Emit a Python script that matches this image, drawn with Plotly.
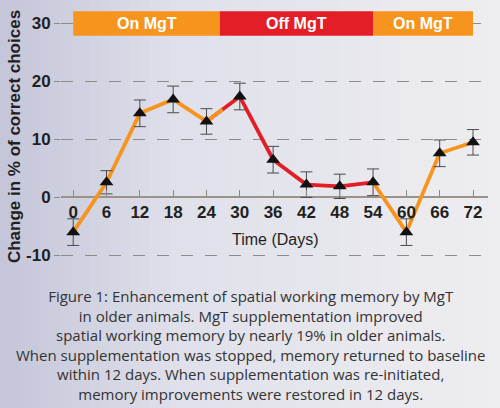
import plotly.graph_objects as go

# data
days = [0, 6, 12, 18, 24, 30, 36, 42, 48, 54, 60, 66, 72]
change = [-6.0, 2.6, 14.5, 16.9, 13.1, 17.4, 6.5, 2.2, 1.9, 2.6, -6.0, 7.6, 9.5]
err = [2.3, 2.0, 2.3, 2.3, 2.2, 2.3, 2.3, 2.2, 2.1, 2.3, 2.3, 2.3, 2.2]

phase_labels = ['On MgT', 'Off MgT', 'On MgT']
phase_edges = [0, 26.4, 54, 72]

caption = ("Figure 1: Enhancement of spatial working memory by MgT<br>"
           "in older animals. MgT supplementation improved<br>"
           "spatial working memory by nearly 19% in older animals.<br>"
           "When supplementation was stopped, memory returned to baseline<br>"
           "within 12 days. When supplementation was re-initiated,<br>"
           "memory improvements were restored in 12 days.")

ORANGE = '#F7941E'
RED = '#E31E26'
W, H = 500, 408
ml, mr, mt, mb = 61, 12, 9, 144
yr = [-11.5, 32.5]
pw = W - ml - mr; ph = H - mt - mb


def px(x):  # figure pixel -> paper x
    return (x - ml) / pw


def py(y):  # figure pixel -> paper y
    return (H - mb - y) / ph


def mix(c1, c2, t):
    return '#%02x%02x%02x' % tuple(int(round(a + (b - a) * t)) for a, b in zip(c1, c2))


fig = go.Figure()

# background gradient, left darker lavender to light grey
left, midc, right = (196, 197, 216), (223, 224, 234), (238, 238, 241)
nstrip = 50
for k in range(nstrip):
    t = (k + 0.5) / nstrip
    col = mix(left, midc, t / 0.35) if t < 0.35 else mix(midc, right, (t - 0.35) / 0.65)
    fig.add_shape(type='rect', xref='paper', yref='paper',
                  x0=px(k * W / nstrip), x1=px((k + 1) * W / nstrip + 0.5), y0=py(H), y1=py(0),
                  fillcolor=col, line_width=0, layer='below')

# line segments: on / off / on
lw = 3.8
fig.add_trace(go.Scatter(x=days[:5], y=change[:5], mode='lines',
                         line=dict(color=ORANGE, width=lw), hoverinfo='skip'))
fig.add_trace(go.Scatter(x=days[4:10], y=change[4:10], mode='lines',
                         line=dict(color=RED, width=lw), hoverinfo='skip'))
# first half of the 24->30 segment is still orange
fig.add_trace(go.Scatter(x=days[4:6], y=change[4:6], mode='lines',
                         line=dict(color=ORANGE, width=lw, dash='20px,300px'), hoverinfo='skip'))
fig.add_trace(go.Scatter(x=days[9:], y=change[9:], mode='lines',
                         line=dict(color=ORANGE, width=lw), hoverinfo='skip'))

fig.add_trace(go.Scatter(x=days, y=change, mode='markers',
                         marker=dict(symbol='triangle-up', size=12, color='#111111'),
                         error_y=dict(type='data', array=err, color='#4a4a4a', thickness=1, width=6)))

# phase bars
for i, lab in enumerate(phase_labels):
    col = RED if lab.startswith('Off') else ORANGE
    fig.add_shape(type='rect', x0=phase_edges[i], x1=phase_edges[i + 1], y0=27.9, y1=32.1,
                  xref='x', yref='y', fillcolor=col, line_width=0, layer='above')
    fig.add_annotation(x=(phase_edges[i] + phase_edges[i + 1]) / 2, y=30, text='<b>' + lab + '</b>',
                       showarrow=False, font=dict(family='Liberation Sans', size=16, color='white'))

fig.add_annotation(x=px(275), y=py(239), xref='paper', yref='paper', text='Time (Days)', showarrow=False,
                   xanchor='center', yanchor='middle',
                   font=dict(family='Liberation Sans', size=16, color='#231f20'))
fig.add_annotation(x=px(250), y=py(284), xref='paper', yref='paper', text=caption, showarrow=False,
                   align='center', xanchor='center', yanchor='top',
                   font=dict(family='Open Sans', size=15, color='#333333'))

fig.update_layout(
    width=W, height=H,
    margin=dict(l=ml, r=mr, t=mt, b=mb, autoexpand=False),
    paper_bgcolor='#e6e6ee', plot_bgcolor='rgba(0,0,0,0)',
    showlegend=False,
    xaxis=dict(range=[-2.2, 74.7], tickvals=days, ticktext=['<b>%d</b>' % d for d in days],
               tickfont=dict(family='Liberation Sans', size=17, color='#231f20'),
               anchor='free', position=(0 - yr[0]) / (yr[1] - yr[0]), automargin=False,
               showline=False, ticks='inside', ticklen=7, tickcolor='#8f8780', tickwidth=1,
               ticklabelstandoff=3, showgrid=False, zeroline=False),
    yaxis=dict(range=yr, tickvals=[-10, 0, 10, 20, 30],
               ticktext=['<b>-10</b>', '<b>0</b>', '<b>10</b>', '<b>20</b>', '<b>30</b>'],
               tickfont=dict(family='Liberation Sans', size=17, color='#231f20'),
               ticks='outside', ticklen=6, tickcolor='#8f8780', automargin=False,
               showgrid=True, gridcolor='#8c8c8c', griddash='12px,12px', gridwidth=1,
               zeroline=True, zerolinecolor='#9a928b', zerolinewidth=1.5,
               title=dict(text='<b>Change in % of correct choices</b>', standoff=1,
                          font=dict(family='Liberation Sans', size=17, color='#231f20'))),
)

# drop the default body margin so the figure fills the window
fig.write_html("out.html", config={'displayModeBar': False},
               post_script="document.body.style.margin='0px';")
